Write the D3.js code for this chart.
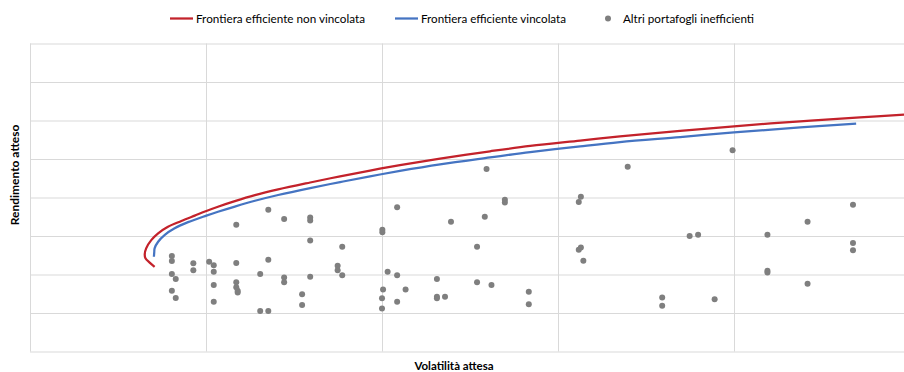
<!DOCTYPE html>
<html>
<head>
<meta charset="utf-8">
<script src="https://cdn.jsdelivr.net/npm/d3@7"></script>
<style>
  body { margin: 0; background: #fff; }
  svg { display: block; }
</style>
</head>
<body>
<svg id="chart" width="904" height="372"></svg>
<script>
// Axis gridline values (volatility %, expected return %)
const volTicks = [0, 5, 10, 15, 20, 25];
const retTicks = [0, 1, 2, 3, 4, 5, 6, 7, 8];

// Unconstrained efficient frontier
const freeVol = [3.54, 3.40, 3.28, 3.26, 3.30, 3.45, 3.64, 3.92, 4.30, 4.68, 5.01, 5.34, 5.82, 6.39, 7.05, 7.96, 8.81, 9.66, 10.51, 11.65, 13.07, 14.21, 15.63, 16.76, 18.47, 20.00, 21.88, 23.58, 24.83];
const freeRet = [2.20, 2.31, 2.42, 2.53, 2.68, 2.90, 3.07, 3.24, 3.39, 3.53, 3.65, 3.76, 3.905, 4.06, 4.21, 4.39, 4.55, 4.70, 4.84, 5.01, 5.20, 5.34, 5.48, 5.59, 5.73, 5.85, 5.98, 6.08, 6.15];

// Constrained efficient frontier
const boundVol = [3.52, 3.53, 3.54, 3.64, 3.83, 4.11, 4.49, 5.01, 5.34, 5.82, 6.39, 7.05, 7.96, 8.81, 9.66, 10.51, 11.65, 13.07, 14.21, 15.63, 16.76, 18.47, 20.00, 21.88, 23.47];
const boundRet = [2.46, 2.58, 2.68, 2.85, 3.03, 3.20, 3.36, 3.53, 3.63, 3.765, 3.915, 4.065, 4.245, 4.40, 4.55, 4.69, 4.86, 5.04, 5.18, 5.33, 5.44, 5.57, 5.69, 5.82, 5.92];

// Other (inefficient) portfolios
const portfolioVol = [4.03, 4.03, 4.03, 4.14, 4.03, 4.14, 4.64, 4.64, 5.09, 5.22, 5.22, 5.22, 5.22, 5.86, 5.86, 5.86, 5.86, 5.90, 5.90, 6.54, 6.54, 6.77, 6.77, 6.77, 7.22, 7.22, 7.22, 7.73, 7.73, 7.96, 7.96, 7.96, 7.96, 8.74, 8.74, 8.87, 8.87, 10.01, 10.01, 10.03, 10.00, 10.00, 10.16, 10.43, 10.43, 10.43, 10.67, 11.56, 11.56, 11.56, 11.79, 11.96, 12.70, 12.70, 12.92, 12.97, 13.11, 13.49, 13.49, 14.17, 14.17, 15.59, 15.65, 15.59, 15.65, 15.72, 16.98, 17.96, 17.96, 18.74, 18.98, 19.45, 19.96, 20.95, 20.95, 20.95, 22.09, 22.09, 23.38, 23.38, 23.38];
const portfolioRet = [2.48, 2.35, 2.01, 1.88, 1.58, 1.39, 2.29, 2.11, 2.33, 2.24, 2.07, 1.73, 1.29, 3.29, 2.30, 1.80, 1.67, 1.58, 1.53, 2.01, 1.05, 1.05, 2.38, 3.68, 3.44, 1.92, 1.80, 1.49, 1.21, 3.48, 3.40, 2.88, 1.94, 2.23, 2.11, 2.72, 1.98, 3.16, 3.10, 1.61, 1.38, 1.12, 2.07, 3.75, 1.98, 1.29, 1.61, 1.88, 1.42, 1.38, 1.42, 3.37, 2.72, 1.80, 3.50, 4.74, 1.73, 3.94, 3.87, 1.55, 1.23, 3.88, 4.02, 2.64, 2.70, 2.36, 4.80, 1.40, 1.19, 3.00, 3.03, 1.36, 5.23, 3.03, 2.10, 2.05, 3.37, 1.76, 3.81, 2.82, 2.63];

const seriesNames = ["Frontiera efficiente non vincolata", "Frontiera efficiente vincolata", "Altri portafogli inefficienti"];
const xTitle = "Volatilità attesa";
const yTitle = "Rendimento atteso";

const colors = { free: "#C3222B", bound: "#4574C2", dots: "#7F7F7F", grid: "#D9D9D9", text: "#000" };
const font = "Lato, 'Open Sans', sans-serif";

const plot = { left: 30, top: 43.5, bottom: 351.5, right: 904 };

const svg = d3.select("#chart");

const x = d3.scaleLinear().domain([0, 25]).range([plot.left, 910]);
const y = d3.scaleLinear().domain([0, 8]).range([plot.bottom, plot.top]);

// Clip region for the plot area
svg.append("defs").append("clipPath").attr("id", "plotClip")
  .append("rect")
  .attr("x", plot.left).attr("y", plot.top - 2)
  .attr("width", plot.right - plot.left).attr("height", plot.bottom - plot.top + 4);

// Gridlines drawn through axes with full-length ticks
const gridY = svg.append("g").attr("transform", `translate(${plot.left},0)`)
  .call(d3.axisRight(y).tickValues(retTicks).tickSize(plot.right - plot.left).tickFormat(""));
const gridX = svg.append("g").attr("transform", `translate(0,${plot.top})`)
  .call(d3.axisBottom(x).tickValues(volTicks).tickSize(plot.bottom - plot.top).tickFormat(""));
[gridX, gridY].forEach(g => {
  g.select(".domain").remove();
  g.selectAll(".tick line").attr("stroke", colors.grid).attr("stroke-width", 1);
});

const plotG = svg.append("g").attr("clip-path", "url(#plotClip)");

// Inefficient portfolios
plotG.append("g").selectAll("circle")
  .data(d3.range(portfolioVol.length))
  .join("circle")
  .attr("cx", i => x(portfolioVol[i]))
  .attr("cy", i => y(portfolioRet[i]))
  .attr("r", 3)
  .attr("fill", colors.dots);

const line = d3.line()
  .x(d => x(d[0]))
  .y(d => y(d[1]))
  .curve(d3.curveCatmullRom.alpha(0.5));

plotG.append("path")
  .datum(d3.zip(boundVol, boundRet))
  .attr("d", line)
  .attr("fill", "none")
  .attr("stroke", colors.bound)
  .attr("stroke-width", 2.25);

plotG.append("path")
  .datum(d3.zip(freeVol, freeRet))
  .attr("d", line)
  .attr("fill", "none")
  .attr("stroke", colors.free)
  .attr("stroke-width", 2.25);

// Axis titles
svg.append("text")
  .attr("x", 454).attr("y", 370)
  .attr("text-anchor", "middle")
  .attr("font-family", font).attr("font-size", 11.5).attr("font-weight", "bold")
  .attr("fill", colors.text)
  .text(xTitle);

svg.append("text")
  .attr("transform", "translate(19,175) rotate(-90)")
  .attr("text-anchor", "middle")
  .attr("font-family", font).attr("font-size", 12).attr("font-weight", "bold")
  .attr("fill", colors.text)
  .text(yTitle);

// Legend
const legend = svg.append("g").attr("font-family", font).attr("font-size", 11.5).attr("fill", "#000");
const legendItems = [
  { name: seriesNames[0], kind: "line", color: colors.free, x0: 170, tx: 196, tw: 169 },
  { name: seriesNames[1], kind: "line", color: colors.bound, x0: 395, tx: 421, tw: 145 },
  { name: seriesNames[2], kind: "dot", color: colors.dots, x0: 608, tx: 623, tw: 131 }
];
const ly = 18.5;
legendItems.forEach(it => {
  if (it.kind === "line") {
    legend.append("line")
      .attr("x1", it.x0).attr("x2", it.x0 + 23)
      .attr("y1", ly).attr("y2", ly)
      .attr("stroke", it.color).attr("stroke-width", 2.25);
  } else {
    legend.append("circle").attr("cx", it.x0).attr("cy", ly).attr("r", 3).attr("fill", it.color);
  }
  legend.append("text")
    .attr("x", it.tx).attr("y", ly + 4)
    .attr("textLength", it.tw).attr("lengthAdjust", "spacingAndGlyphs")
    .text(it.name);
});
</script>
</body>
</html>
